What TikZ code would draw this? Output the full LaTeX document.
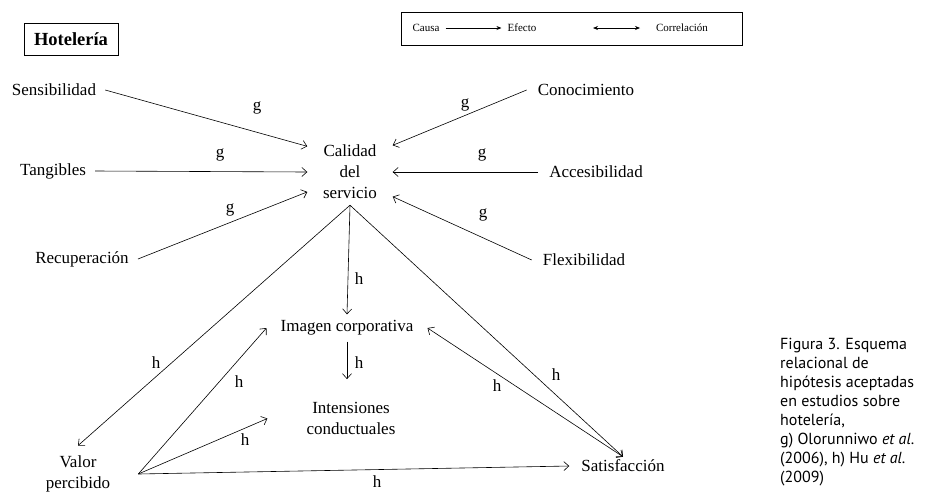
\documentclass[tikz,border=0pt]{standalone}
\usepackage{fontspec}
\setmainfont{Liberation Serif}
\newfontfamily\capfont{PT Sans}
\usetikzlibrary{arrows.meta}

\begin{document}
\begin{tikzpicture}[x=1pt,y=-1pt,
  concept/.style={font=\fontsize{17}{21}\selectfont,align=center,inner xsep=9pt,inner ysep=3pt},
  tag/.style={font=\fontsize{17}{21}\selectfont,inner sep=0pt},
  keytext/.style={font=\fontsize{11}{13}\selectfont,inner xsep=6pt,inner ysep=0pt},
  link/.style={-{Straight Barb[length=5pt,width=9pt]},line width=0.6pt},
  twoway/.style={{Straight Barb[length=5pt,width=9pt]}-{Straight Barb[length=5pt,width=9pt]},line width=0.6pt},
  keyarrow/.style={line width=0.7pt}]
\useasboundingbox (0,0) rectangle (926,499);
\node [draw,line width=0.8pt,minimum width=94pt,minimum height=32pt,inner sep=0pt,
  font=\bfseries\fontsize{18.5}{22}\selectfont] (hotel) at (71,39) {Hotelería};
% legend
\node [draw,line width=0.8pt,minimum width=341pt,minimum height=33pt] (legend) at (571.5,28.5) {};
\node [keytext] (causa) at (426,28) {Causa};
\node [keytext] (efecto) at (522,28) {Efecto};
\node [keytext] (correl) at (682,28) {Correlación};
\coordinate (cl) at (593,28);
\coordinate (cr) at (640,28);
\draw [keyarrow,-{Stealth[length=5pt,width=4pt]}] (causa) -- (efecto);
\draw [keyarrow,{Stealth[length=5pt,width=4pt]}-{Stealth[length=5pt,width=4pt]}] (cl) -- (cr);
% dimensions
\node [concept] (sens) at (54,90) {Sensibilidad};
\node [concept] (tang) at (53,171) {Tangibles};
\node [concept] (recu) at (82,259) {Recuperación};
\node [concept,inner xsep=11pt] (cono) at (586,90) {Conocimiento};
\node [concept,inner xsep=11pt] (acce) at (596,172) {Accesibilidad};
\node [concept,inner xsep=11pt] (flex) at (584,260) {Flexibilidad};
\node [concept,minimum width=85pt,minimum height=66pt,inner sep=0pt] (cal) at (350,172) {Calidad\\del\\servicio};
% outcomes
\node [concept,inner xsep=14pt,inner ysep=6pt] (imag) at (347,328) {Imagen corporativa};
\node [concept,inner xsep=39pt,inner ysep=23pt] (inte) at (351,418.5) {Intensiones\\conductuales};
\node [concept,inner xsep=28pt,inner ysep=10pt] (valor) at (78,474) {Valor\\percibido};
\node [concept,inner xsep=12pt,inner ysep=3pt] (satis) at (623,466) {Satisfacción};
% arrows to calidad
\draw [link] (sens.east) -- (cal.149);
\draw [link] (tang.east) -- (cal.west);
\draw [link] (recu.east) -- (cal.205);
\draw [link] (cono.west) -- (cal.32);
\draw [link] (acce.west) -- (cal.east);
\draw [link] (flex.west) -- (cal.330);
% arrows of the lower part
\draw [link] (cal.south) -- (imag.north);
\draw [link] (cal.south) -- (valor.north);
\draw [link] (cal.south) -- (satis.north);
\draw [link] (imag.south) -- (imag.south |- inte.north);
\draw [link] (valor.east) -- (imag.west);
\draw [link] (valor.east) -- (inte.west);
\draw [link] (valor.east) -- (satis.west);
\draw [twoway] (satis.north) -- (imag.east);
% hypothesis labels
\foreach \nm/\pos in {g1/{257,108},g2/{465,105},g3/{220,155},g4/{482,155},g5/{230,210},g6/{483,215}}
  {\node [tag] (\nm) at (\pos) {g};}
\foreach \nm/\pos in {h1/{359,279},h2/{156,363},h3/{556,375},h4/{359,363},h5/{239,382},h6/{245,440},h7/{497,386},h8/{377,482}}
  {\node [tag] (\nm) at (\pos) {h};}
% caption
\node [anchor=north west,align=left,inner sep=0pt,font=\capfont\fontsize{16}{19}\selectfont] (caption) at (780,338)
  {Figura 3. Esquema\\relacional de\\hipótesis aceptadas\\en estudios sobre\\hotelería,\\g) Olorunniwo \textit{et al}.\\(2006), h) Hu \textit{et al}.\\(2009)};
\end{tikzpicture}
\end{document}
